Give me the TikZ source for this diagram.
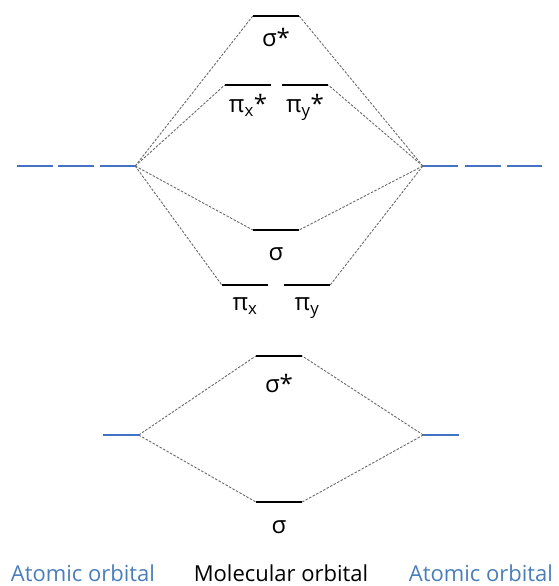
\documentclass[tikz,border=0pt]{standalone}
\usepackage{fontspec}
\setmainfont{Open Sans}
\usetikzlibrary{positioning}
\definecolor{aoblue}{RGB}{68,114,196}
\definecolor{aotext}{RGB}{74,126,187}
\definecolor{guidegray}{RGB}{105,105,105}

\begin{document}
\begin{tikzpicture}[
      x=1pt,y=-1pt,
      level/.style={inner sep=0pt,minimum width=46pt,minimum height=0pt},
      aolevel/.style={level,minimum width=35pt},
      mo/.style={line width=2.4pt,black},
      ao/.style={line width=2.6pt,aoblue},
      guide/.style={guidegray,line width=0.9pt,dash pattern=on 2.5pt off 1.5pt},
      lbl/.style={font=\fontsize{24}{28}\selectfont,inner sep=1pt,
        text height=18pt,text depth=5pt},
      caption/.style={font=\fontsize{22}{26}\selectfont,anchor=base,
        inner sep=1pt}
    ]
      \useasboundingbox (0,0) rectangle (558,586);

      % 2p levels
      \node[aolevel](pL1) at (35,166){};
      \node[aolevel](pL2) at (76,166){};
      \node[aolevel](pL3) at (117.5,166){};
      \node[aolevel](pR1) at (440.5,166){};
      \node[aolevel](pR2) at (483,166){};
      \node[aolevel](pR3) at (524.5,166){};
      \node[level](sigSp) at (276,16){};
      \node[level](pixS) at (248,85){};
      \node[level](piyS) at (305,85){};
      \node[level](sigP) at (276,230){};
      \node[level](pix) at (245,285){};
      \node[level](piy) at (307,285){};

      % 2s levels
      \node[aolevel](sL) at (121,435){};
      \node[aolevel](sR) at (441,435){};
      \node[level](sigSs) at (279,356){};
      \node[level](sigS) at (279,502){};

      % correlation lines
      \foreach \m in {sigSp,pixS,sigP,pix}
        \draw[guide](pL3.east)--(\m.west);
      \foreach \m in {sigSp,piyS,sigP,piy}
        \draw[guide](pR1.west)--(\m.east);
      \foreach \m in {sigSs,sigS}{
        \draw[guide](sL.east)--(\m.west);
        \draw[guide](sR.west)--(\m.east);
      }

      \foreach \n in {pL1,pL2,pL3,pR1,pR2,pR3,sL,sR}
        \draw[ao](\n.west)--(\n.east);
      \foreach \n in {sigSp,pixS,piyS,sigP,pix,piy,sigSs,sigS}
        \draw[mo](\n.west)--(\n.east);

      % labels
      \node[lbl,below=11pt of sigSp](lsigSp){σ*};
      \node[lbl,below=8pt of pixS](lpixS){π\textsubscript{x}*};
      \node[lbl,below=8pt of piyS](lpiyS){π\textsubscript{y}*};
      \node[lbl,below=11pt of sigP](lsigP){σ};
      \node[lbl,below=6pt of pix](lpix){π\textsubscript{x}};
      \node[lbl,below=6pt of piy](lpiy){π\textsubscript{y}};
      \node[lbl,below=17pt of sigSs](lsigSs){σ*};
      \node[lbl,below=12pt of sigS](lsigS){σ};

      \node[caption,text=aotext](capL) at (83,581){Atomic orbital};
      \node[caption](capM) at (281,581){Molecular orbital};
      \node[caption,text=aotext](capR) at (481,581){Atomic orbital};
    \end{tikzpicture}
\end{document}
